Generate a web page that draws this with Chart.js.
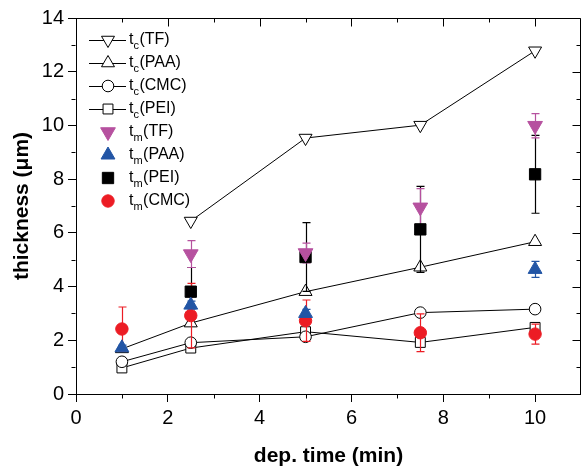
<!DOCTYPE html>
<html><head><meta charset="utf-8">
<script src="https://cdn.jsdelivr.net/npm/chart.js@4/dist/chart.umd.min.js"></script>
<style>html,body{margin:0;padding:0;background:#fff;}</style>
</head><body>
<canvas id="c" width="581" height="469"></canvas>
<script>
// ---- data ----
const times = [1, 2.5, 5, 7.5, 10];
const tcTF  = [null, 6.44, 9.53, 10.01, 12.78];
const tcPAA = [1.68, 2.64, 3.81, 4.72, 5.67];
const tcCMC = [1.20, 1.91, 2.13, 3.03, 3.16];
const tcPEI = [0.97, 1.71, 2.32, 1.92, 2.48];
const tmTF     = [null, 5.21, 5.25, 6.95, 9.99];
const tmTFerr  = [null, 0.50, 0.37, 0.70, 0.45];
const tmPAA    = [1.72, 3.31, 3.00, null, 4.64];
const tmPAAerr = [0.10, 0.15, 0.15, null, 0.30];
const tmPEI    = [null, 3.81, 5.10, 6.13, 8.18];
const tmPEIerr = [null, 0.90, 1.28, 1.60, 1.45];
const tmCMC    = [2.42, 2.92, 2.73, 2.28, 2.23];
const tmCMCerr = [0.82, 1.20, 0.77, 0.70, 0.37];
const xTicks = [0, 2, 4, 6, 8, 10];
const yTicks = [0, 2, 4, 6, 8, 10, 12, 14];
const xMinor = [1, 3, 5, 7, 9, 11];
const yMinor = [1, 3, 5, 7, 9, 11, 13];

const PURPLE = '#b6519f', BLUE = '#2255a5', RED = '#ec1c24', BLACK = '#000000';
const FONT = '"Liberation Sans", Arial, sans-serif';

const pts = arr => times.map((t, i) => ({x: t, y: arr[i]})).filter(p => p.y !== null);

function openSeries(label, arr, style, rot, r, order) {
  return {label, data: pts(arr), showLine: true, borderColor: BLACK, borderWidth: 1,
    pointStyle: style, rotation: rot, pointRadius: r, pointBackgroundColor: '#fff',
    pointBorderColor: BLACK, pointBorderWidth: 1, order, tension: 0};
}
function filledSeries(label, arr, style, rot, r, color, order) {
  return {label, data: pts(arr), showLine: false, pointStyle: style, rotation: rot,
    pointRadius: r, pointBackgroundColor: color, pointBorderColor: color, pointBorderWidth: 1, order};
}

const datasets = [
  openSeries('tc(TF)', tcTF, 'triangle', 180, 7.5, 13),
  openSeries('tc(PAA)', tcPAA, 'triangle', 0, 7.5, 12),
  openSeries('tc(PEI)', tcPEI, 'rect', 0, 7, 11),
  Object.assign(openSeries('tc(CMC)', tcCMC, 'circle', 0, 5.8, 10), {drawErrorsAfter: true}),
  filledSeries('tm(CMC)', tmCMC, 'circle', 0, 6.2, RED, 4),
  filledSeries('tm(PEI)', tmPEI, 'rect', 0, 8, BLACK, 3),
  filledSeries('tm(PAA)', tmPAA, 'triangle', 0, 8, BLUE, 2),
  filledSeries('tm(TF)', tmTF, 'triangle', 180, 8.5, PURPLE, 1)
];

const errorSets = [
  {vals: tmPEI, errs: tmPEIerr, color: BLACK},
  {vals: tmCMC, errs: tmCMCerr, color: RED},
  {vals: tmPAA, errs: tmPAAerr, color: BLUE},
  {vals: tmTF, errs: tmTFerr, color: PURPLE}
];

const legendItems = [
  {sub: 'c', name: '(TF)', style: 'triangle', rot: 180, r: 7.5, fill: '#fff', stroke: BLACK, line: true},
  {sub: 'c', name: '(PAA)', style: 'triangle', rot: 0, r: 7.5, fill: '#fff', stroke: BLACK, line: true},
  {sub: 'c', name: '(CMC)', style: 'circle', rot: 0, r: 5.8, fill: '#fff', stroke: BLACK, line: true},
  {sub: 'c', name: '(PEI)', style: 'rect', rot: 0, r: 7, fill: '#fff', stroke: BLACK, line: true},
  {sub: 'm', name: '(TF)', style: 'triangle', rot: 180, r: 8.5, fill: PURPLE, stroke: PURPLE, line: false},
  {sub: 'm', name: '(PAA)', style: 'triangle', rot: 0, r: 8, fill: BLUE, stroke: BLUE, line: false},
  {sub: 'm', name: '(PEI)', style: 'rect', rot: 0, r: 8, fill: BLACK, stroke: BLACK, line: false},
  {sub: 'm', name: '(CMC)', style: 'circle', rot: 0, r: 6.2, fill: RED, stroke: RED, line: false}
];

function shape(ctx, style, x, y, r, rot) {
  ctx.beginPath();
  if (style === 'circle') {
    ctx.arc(x, y, r, 0, Math.PI * 2);
  } else if (style === 'rect') {
    const s = Math.SQRT1_2 * r;
    ctx.rect(x - s, y - s, 2 * s, 2 * s);
  } else {
    let a = rot * Math.PI / 180;
    ctx.moveTo(x + Math.sin(a) * r, y - Math.cos(a) * r);
    a += 2 * Math.PI / 3;
    ctx.lineTo(x + Math.sin(a) * r, y - Math.cos(a) * r);
    a += 2 * Math.PI / 3;
    ctx.lineTo(x + Math.sin(a) * r, y - Math.cos(a) * r);
  }
  ctx.closePath();
}

const errorPlugin = {
  id: 'errbars',
  afterDatasetDraw(chart, args) {
    if (!args.meta.controller.getDataset().drawErrorsAfter) return;
    const ctx = chart.ctx, xs = chart.scales.x, ys = chart.scales.y;
    ctx.save();
    ctx.lineWidth = 1.2;
    errorSets.forEach(s => {
      ctx.strokeStyle = s.color;
      times.forEach((t, i) => {
        if (s.vals[i] === null || s.errs[i] === null) return;
        const px = Math.round(xs.getPixelForValue(t)) + 0.5;
        const top = ys.getPixelForValue(s.vals[i] + s.errs[i]);
        const bot = ys.getPixelForValue(s.vals[i] - s.errs[i]);
        ctx.beginPath();
        ctx.moveTo(px, top); ctx.lineTo(px, bot);
        ctx.moveTo(px - 4, top); ctx.lineTo(px + 4, top);
        ctx.moveTo(px - 4, bot); ctx.lineTo(px + 4, bot);
        ctx.stroke();
      });
    });
    ctx.restore();
  }
};

const framePlugin = {
  id: 'frame',
  afterDraw(chart) {
    const ctx = chart.ctx, a = chart.chartArea, xs = chart.scales.x, ys = chart.scales.y;
    ctx.save();
    ctx.strokeStyle = BLACK; ctx.lineWidth = 1;
    const top = Math.round(a.top) + 0.5, right = Math.min(Math.round(a.right), 581) - 0.5;
    const bottom = Math.round(a.bottom) + 0.5, left = Math.round(a.left) - 0.5;
    ctx.beginPath();
    ctx.moveTo(left, top); ctx.lineTo(right, top); ctx.lineTo(right, bottom);
    xTicks.forEach(v => { const p = Math.round(xs.getPixelForValue(v)) + 0.5; ctx.moveTo(p, top); ctx.lineTo(p, top + 8); });
    xMinor.forEach(v => { const p = Math.round(xs.getPixelForValue(v)) + 0.5; ctx.moveTo(p, top); ctx.lineTo(p, top + 4); ctx.moveTo(p, bottom); ctx.lineTo(p, bottom + 4); });
    yTicks.forEach(v => { const p = Math.round(ys.getPixelForValue(v)) + 0.5; ctx.moveTo(right, p); ctx.lineTo(right - 8, p); });
    yMinor.forEach(v => { const p = Math.round(ys.getPixelForValue(v)) + 0.5; ctx.moveTo(right, p); ctx.lineTo(right - 4, p); ctx.moveTo(left, p); ctx.lineTo(left - 4, p); });
    ctx.stroke();

    // legend
    const x0 = 108, y0 = 40, dy = 23;
    legendItems.forEach((it, i) => {
      const y = y0 + i * dy;
      if (it.line) {
        ctx.beginPath(); ctx.lineWidth = 1; ctx.strokeStyle = BLACK;
        ctx.moveTo(89, Math.round(y) + 0.5); ctx.lineTo(126, Math.round(y) + 0.5); ctx.stroke();
      }
      shape(ctx, it.style, x0, y, it.r, it.rot);
      ctx.fillStyle = it.fill; ctx.fill();
      ctx.strokeStyle = it.stroke; ctx.lineWidth = 1; ctx.stroke();
      ctx.fillStyle = BLACK;
      ctx.textBaseline = 'middle'; ctx.textAlign = 'left';
      ctx.font = '16px ' + FONT;
      ctx.fillText('t', 129, y);
      let tx = 129 + ctx.measureText('t').width;
      ctx.font = '11px ' + FONT;
      ctx.fillText(it.sub, tx, y + 6);
      tx += ctx.measureText(it.sub).width + 0.5;
      ctx.font = '16px ' + FONT;
      ctx.fillText(it.name, tx, y);
    });
    ctx.restore();
  }
};

new Chart(document.getElementById('c'), {
  type: 'scatter',
  data: {datasets},
  options: {
    responsive: false, animation: false, devicePixelRatio: 1,
    layout: {autoPadding: false, padding: {top: 18, right: 0, left: 0, bottom: 0}},
    plugins: {legend: {display: false}, tooltip: {enabled: false}},
    scales: {
      x: {
        type: 'linear', min: 0, max: 11,
        afterBuildTicks: s => { s.ticks = xTicks.map(v => ({value: v})); },
        afterFit: s => { s.height = 75; s.paddingRight = 0; s.paddingLeft = 0; },
        grid: {drawOnChartArea: false, drawTicks: true, tickLength: 8, tickColor: BLACK, color: BLACK},
        border: {display: true, color: BLACK, width: 1},
        ticks: {color: BLACK, font: {family: FONT, size: 20}, padding: 4, maxRotation: 0},
        title: {display: true, text: 'dep. time (min)', color: BLACK, font: {family: FONT, size: 21, weight: 'bold'}, padding: {top: 0, bottom: 0}}
      },
      y: {
        type: 'linear', min: 0, max: 14,
        afterBuildTicks: s => { s.ticks = yTicks.map(v => ({value: v})); },
        afterFit: s => { s.width = 76; s.paddingTop = 0; s.paddingBottom = 0; },
        grid: {drawOnChartArea: false, drawTicks: true, tickLength: 8, tickColor: BLACK, color: BLACK},
        border: {display: true, color: BLACK, width: 1},
        ticks: {color: BLACK, font: {family: FONT, size: 20}, padding: 4},
        title: {display: true, text: 'thickness (\u03bcm)', color: BLACK, font: {family: FONT, size: 21, weight: 'bold'}, padding: {top: 10, bottom: 0}}
      }
    }
  },
  plugins: [errorPlugin, framePlugin]
});
</script>
</body></html>
